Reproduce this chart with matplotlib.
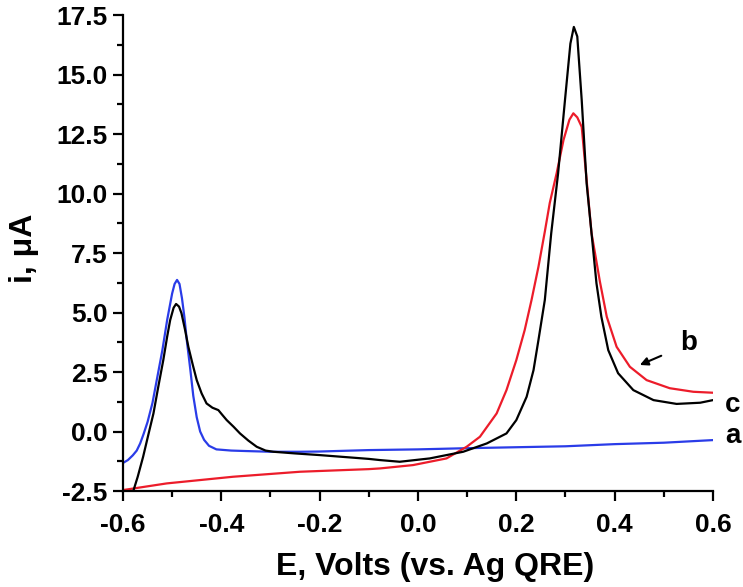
#Cyclic voltammograms a, b, c
import matplotlib
matplotlib.use('Agg')
import matplotlib.pyplot as plt
import matplotlib.ticker as mtick

plt.rcParams['font.family'] = ['Liberation Sans', 'DejaVu Sans']
plt.rcParams['font.weight'] = 'bold'

#curve a (blue)
e_a = [-0.6, -0.59, -0.58, -0.572, -0.565, -0.558, -0.55, -0.54, -0.53, -0.52,
       -0.51, -0.5, -0.495, -0.49, -0.485, -0.48, -0.475, -0.47, -0.463, -0.457,
       -0.45, -0.443, -0.435, -0.425, -0.41, -0.38, -0.35, -0.3, -0.24, -0.2,
       -0.1, 0.0, 0.1, 0.2, 0.3, 0.4, 0.5, 0.6]
i_a = [-1.32, -1.2, -1.0, -0.8, -0.5, -0.1, 0.4, 1.2, 2.3, 3.4,
       4.7, 5.8, 6.2, 6.37, 6.2, 5.6, 4.8, 3.8, 2.6, 1.5,
       0.6, 0.0, -0.35, -0.6, -0.75, -0.8, -0.82, -0.85, -0.85, -0.84,
       -0.78, -0.75, -0.7, -0.66, -0.62, -0.53, -0.47, -0.36]

#curve b (red)
e_b = [-0.6, -0.511, -0.376, -0.24, -0.1, -0.077, -0.01, 0.058, 0.099, 0.126,
       0.16, 0.18, 0.2, 0.217, 0.231, 0.245, 0.258, 0.268, 0.282, 0.296,
       0.308, 0.316, 0.324, 0.333, 0.343, 0.353, 0.36, 0.37, 0.384, 0.404,
       0.431, 0.465, 0.512, 0.56, 0.6]
i_b = [-2.46, -2.18, -1.9, -1.69, -1.58, -1.55, -1.41, -1.13, -0.64, -0.22,
       0.76, 1.74, 3.0, 4.26, 5.53, 6.92, 8.4, 9.6, 10.85, 12.25,
       13.1, 13.37, 13.2, 12.8, 10.57, 8.33, 7.5, 6.3, 4.82, 3.56,
       2.72, 2.16, 1.82, 1.67, 1.63]

#curve c (black)
e_c = [-0.585, -0.579, -0.57, -0.559, -0.548, -0.538, -0.528, -0.518, -0.51, -0.504,
       -0.497, -0.492, -0.486, -0.481, -0.474, -0.467, -0.458, -0.45, -0.44, -0.43,
       -0.418, -0.406, -0.398, -0.389, -0.375, -0.362, -0.345, -0.328, -0.31, -0.294,
       -0.25, -0.2, -0.15, -0.1, -0.077, -0.037, 0.024, 0.092, 0.14, 0.18,
       0.2, 0.221, 0.235, 0.245, 0.258, 0.271, 0.285, 0.299, 0.31, 0.317,
       0.324, 0.333, 0.343, 0.353, 0.363, 0.373, 0.387, 0.407, 0.438, 0.479,
       0.526, 0.574, 0.6]
i_c = [-2.75, -2.5, -1.9, -1.06, -0.1, 0.76, 1.9, 3.0, 4.0, 4.68,
       5.2, 5.36, 5.25, 4.97, 4.3, 3.56, 2.8, 2.16, 1.6, 1.18,
       1.0, 0.9, 0.7, 0.48, 0.2, -0.08, -0.38, -0.64, -0.8, -0.85,
       -0.92, -0.99, -1.07, -1.15, -1.2, -1.27, -1.13, -0.85, -0.5, -0.08,
       0.48, 1.46, 2.58, 3.84, 5.53, 8.33, 10.85, 13.93, 16.3, 17.0,
       16.6, 13.93, 10.43, 8.33, 6.23, 4.82, 3.42, 2.45, 1.74, 1.32,
       1.16, 1.21, 1.32]

xticks = [-0.6, -0.4, -0.2, 0.0, 0.2, 0.4, 0.6]
yticks = [-2.5, 0.0, 2.5, 5.0, 7.5, 10.0, 12.5, 15.0, 17.5]

fig = plt.figure(figsize=(7.43, 5.87), dpi=100)
ax = fig.add_axes([0.1655, 0.1635, 0.7941, 0.8109])

ax.plot(e_a, i_a, color='#2a3ce8', lw=1.6)
ax.plot(e_b, i_b, color='#ec1c2a', lw=1.6)
ax.plot(e_c, i_c, color='black', lw=1.6)

ax.set_xlim(-0.6, 0.6)
ax.set_ylim(-2.5, 17.5)
ax.set_xticks(xticks)
ax.set_yticks(yticks)
ax.xaxis.set_minor_locator(mtick.MultipleLocator(0.1))
ax.yaxis.set_minor_locator(mtick.MultipleLocator(1.25))
ax.xaxis.set_major_formatter(mtick.FormatStrFormatter('%.1f'))
ax.yaxis.set_major_formatter(mtick.FormatStrFormatter('%.1f'))

ax.spines['top'].set_visible(False)
ax.spines['right'].set_visible(False)
ax.spines['left'].set_linewidth(1.6)
ax.spines['bottom'].set_linewidth(1.6)
ax.tick_params(axis='x', which='major', direction='out', length=7, width=1.6, labelsize=19, pad=9)
ax.tick_params(axis='y', which='major', direction='out', length=7, width=1.6, labelsize=19, pad=4)
ax.tick_params(which='minor', direction='out', length=4, width=1.6)

ax.set_xlabel('E, Volts (vs. Ag QRE)', fontsize=23, fontweight='bold')
ax.set_ylabel('i, \u03bcA', fontsize=23, fontweight='bold')
ax.xaxis.set_label_coords(0.529, -0.128)
ax.yaxis.set_label_coords(-0.143, 0.51)

ax.text(0.625, -0.2, 'a', fontsize=20, fontweight='bold', va='center', ha='left', clip_on=False)
ax.text(0.625, 1.1, 'c', fontsize=20, fontweight='bold', va='center', ha='left', clip_on=False)
ax.text(0.55, 3.73, 'b', fontsize=20, fontweight='bold', va='center', ha='center')
ax.annotate('', xy=(0.446, 2.75), xytext=(0.5, 3.23),
            arrowprops=dict(arrowstyle='-|>', color='black', lw=1.5, mutation_scale=12))

plt.savefig('out.png', dpi=100)
